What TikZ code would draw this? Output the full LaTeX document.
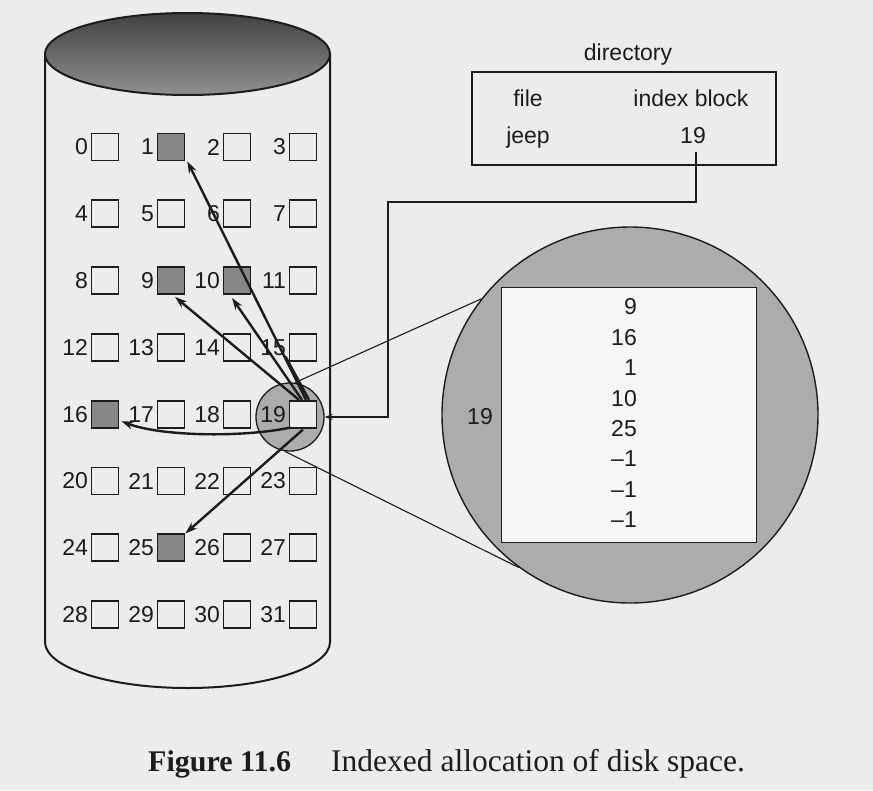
\documentclass[tikz,border=0pt]{standalone}
\usepackage{fontspec}
\setmainfont{Liberation Sans}
\newfontfamily\capfont{Liberation Serif}
\usetikzlibrary{arrows.meta,calc}

\definecolor{paper}{RGB}{236,236,234}
\definecolor{ink}{RGB}{28,28,28}
\definecolor{usedblk}{RGB}{135,135,135}
\definecolor{lens}{RGB}{172,172,172}
\definecolor{sheet}{RGB}{246,246,244}
\definecolor{lidtop}{RGB}{65,65,65}
\definecolor{lidbot}{RGB}{145,145,145}

\begin{document}
\begin{tikzpicture}[x=1pt,y=-1pt,
  blk/.style={draw=ink, line width=1.7pt, minimum size=27pt, inner sep=0pt},
  num/.style={font=\fontsize{23}{23}\selectfont, text=ink, inner sep=0pt},
  ptr/.style={draw=ink, line width=2.4pt, -{Stealth[length=12pt,width=8pt]}},
  link/.style={draw=ink, line width=2.2pt, -{Stealth[length=8pt,width=6pt]}},
  lensline/.style={draw=ink, line width=1.1pt},
  outline/.style={draw=ink, line width=2pt}]

% page
\fill[paper] (0,0) rectangle (873,790);
\useasboundingbox (0,0) rectangle (873,790);

% disk cylinder
\draw[outline] (45,54) -- (45,642)
  arc[start angle=180, end angle=0, x radius=142.5, y radius=46] -- (330,54);
\shade[top color=lidtop, bottom color=lidbot] (187.5,54) ellipse [x radius=142.5, y radius=41];
\draw[outline] (187.5,54) ellipse [x radius=142.5, y radius=41];

% highlight around the index block
\node[circle, minimum size=68pt, inner sep=0pt, fill=lens, draw=ink, line width=1.3pt] (sc) at (290,417) {};

% blocks 0..31
\foreach \i in {0,...,31} {
  \pgfmathtruncatemacro\r{int(\i/4)}
  \pgfmathtruncatemacro\c{mod(\i,4)}
  \pgfmathsetmacro\xx{105+66*\c}
  \pgfmathsetmacro\yy{147+66.8*\r}
  \pgfmathtruncatemacro\usedflag{(\i==1)||(\i==9)||(\i==10)||(\i==16)||(\i==25)}
  \ifnum\usedflag=1 \def\bfill{usedblk}\else\def\bfill{paper}\fi
  \node[blk, fill=\bfill] (b\i) at (\xx,\yy) {};
  \node[num, anchor=east] (l\i) at ([xshift=-2.5pt]b\i.west) {\i};
}

% pointers from the index block
\draw[ptr] ([xshift=-4pt]b19.north) -- ([xshift=4pt,yshift=-2pt]b9.south);
\draw[ptr] ([xshift=-1pt]b19.north) -- ([xshift=-5pt,yshift=-3pt]b10.south);
\draw[ptr] ([xshift=3pt]b19.north) -- ([xshift=2pt]b1.south east);
\draw[draw=ink, line width=2.4pt] ([xshift=6pt]b19.north) -- ([xshift=-3pt,yshift=5pt]b15.south west);
\draw[ptr] ([xshift=2pt,yshift=1pt]b19.south west)
  .. controls (240,438) and (160,436) .. ([xshift=2pt,yshift=-7pt]b16.east);
\draw[ptr] ([yshift=-1pt]b19.south) -- (b25.north east);

% directory
\node[outline, minimum width=304pt, minimum height=93pt, inner sep=0pt] (dirbox) at (624,118.5) {};
\node[num, anchor=base] (dtitle) at (628,60) {directory};
\node[num, anchor=base] (dfile) at (528,106) {file};
\node[num, anchor=base] (dindex) at (691,106) {index block};
\node[num, anchor=base] (djeep) at (528,143) {jeep};
\node[num, anchor=base] (d19) at (693,143) {19};

\coordinate (bend) at (388,202);
\draw[link] ([xshift=3pt,yshift=-9pt]d19.south) |- (bend) |- (sc.east);

% enlarged index block
\node[circle, minimum size=376pt, inner sep=0pt, fill=lens, draw=ink, line width=1.4pt] (bc) at (630,415) {};
\node[minimum size=255pt, inner sep=0pt, fill=sheet, draw=ink, line width=1.4pt] (idx) at (629,415) {};
\foreach \v [count=\k from 0] in {9,16,1,10,25,\textendash1,\textendash1,\textendash1} {
  \node[num, anchor=east] (e\k) at (637,307+30.4*\k) {\v};
}
\node[num, anchor=east] (idxlabel) at (493,417) {19};

\draw[lensline] (sc.82) -- (bc.142);
\draw[lensline] (sc.261) -- (bc.234);

% caption
\node[anchor=base west, inner sep=0pt, text=ink, font=\capfont\bfseries\fontsize{30}{30}\selectfont] (figno) at (148,771) {Figure 11.6};
\node[anchor=base west, inner sep=0pt, text=ink, font=\capfont\fontsize{31.5}{31.5}\selectfont] (figtxt) at (331,771) {Indexed allocation of disk space.};
\end{tikzpicture}
\end{document}
